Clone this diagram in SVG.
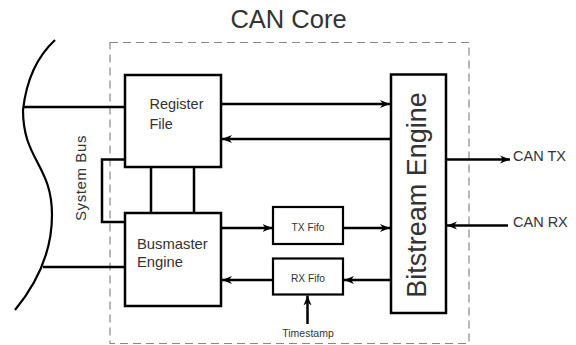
<svg xmlns="http://www.w3.org/2000/svg" width="576" height="345" viewBox="0 0 576 345">
<defs>
<marker id="ah" viewBox="0 0 10 10" refX="10" refY="5" markerWidth="4" markerHeight="4" markerUnits="strokeWidth" orient="auto">
<path d="M0,1 L10,5 L0,9 L3,5 Z" fill="#000"/>
</marker>
<style>
.box{fill:#fff;stroke:#000;stroke-width:2.5}
.fifo{fill:#fff;stroke:#000;stroke-width:2.2}
.ln{fill:none;stroke:#000;stroke-width:2.5}
.ar{fill:none;stroke:#000;stroke-width:2.5;marker-end:url(#ah)}
.t{font-family:"Liberation Sans",Arial,sans-serif;fill:#333}
</style>
</defs>
<rect width="576" height="345" fill="#fff"/>
<text class="t" x="288.5" y="28" font-size="25.5" text-anchor="middle" fill="#222">CAN Core</text>
<rect x="110" y="42.5" width="359" height="301" fill="none" stroke="#888" stroke-width="1.2" stroke-dasharray="8,5"/>
<g id="system-bus">
<path d="M55,40 Q28,65 23,110 C23,160 52,165 52,215 Q52,265 15,310" fill="none" stroke="#000" stroke-width="2.2"/>
<text class="t" font-size="15" letter-spacing="0.6" text-anchor="middle" transform="translate(85.5,178) rotate(-90)">System Bus</text>
</g>
<g id="connectors">
<line class="ln" x1="23" y1="107" x2="125" y2="107"/>
<line class="ln" x1="43" y1="267" x2="125" y2="267"/>
<polyline class="ln" points="125,159.5 102,159.5 102,222 125,222"/>
<line class="ln" x1="151" y1="167" x2="151" y2="213"/>
<line class="ln" x1="194" y1="167" x2="194" y2="213"/>
<line class="ar" x1="221" y1="104" x2="390" y2="104"/>
<line class="ar" x1="391" y1="139" x2="222" y2="139"/>
<line class="ar" x1="221" y1="228" x2="272.5" y2="228"/>
<line class="ar" x1="343" y1="228" x2="390" y2="228"/>
<line class="ar" x1="391" y1="280" x2="344" y2="280"/>
<line class="ar" x1="273" y1="280" x2="222" y2="280"/>
<line class="ar" x1="307.5" y1="324" x2="307.5" y2="295.5"/>
<line class="ar" x1="446" y1="159.5" x2="510" y2="159.5"/>
<line class="ar" x1="508" y1="225.5" x2="447" y2="225.5"/>
</g>
<g id="register-file">
<rect class="box" x="125" y="75" width="96" height="92"/>
<text class="t" x="149.5" y="109" font-size="14.5">Register</text>
<text class="t" x="149.5" y="128.5" font-size="14.5">File</text>
</g>
<g id="busmaster-engine">
<rect class="box" x="125" y="213" width="96" height="93"/>
<text class="t" x="137" y="248.5" font-size="14.8" fill="#222">Busmaster</text>
<text class="t" x="137" y="267" font-size="14.8" fill="#222">Engine</text>
</g>
<g id="tx-fifo">
<rect class="fifo" x="273" y="207" width="70" height="37"/>
<text class="t" x="308" y="231" font-size="10.2" text-anchor="middle" fill="#555">TX Fifo</text>
</g>
<g id="rx-fifo">
<rect class="fifo" x="273" y="258.5" width="70" height="36"/>
<text class="t" x="308" y="282" font-size="10.2" text-anchor="middle" fill="#555">RX Fifo</text>
</g>
<g id="timestamp">
<text class="t" x="308" y="336.5" font-size="10.5" text-anchor="middle" fill="#444">Timestamp</text>
</g>
<g id="bitstream-engine">
<rect class="box" x="391" y="74.5" width="55" height="238.5"/>
<text class="t" font-size="27" text-anchor="middle" fill="#222" transform="translate(425.5,195) rotate(-90)">Bitstream Engine</text>
</g>
<g id="can-tx">
<text class="t" x="513" y="160.5" font-size="14.5">CAN TX</text>
</g>
<g id="can-rx">
<text class="t" x="513" y="226.5" font-size="14.5">CAN RX</text>
</g>
</svg>
